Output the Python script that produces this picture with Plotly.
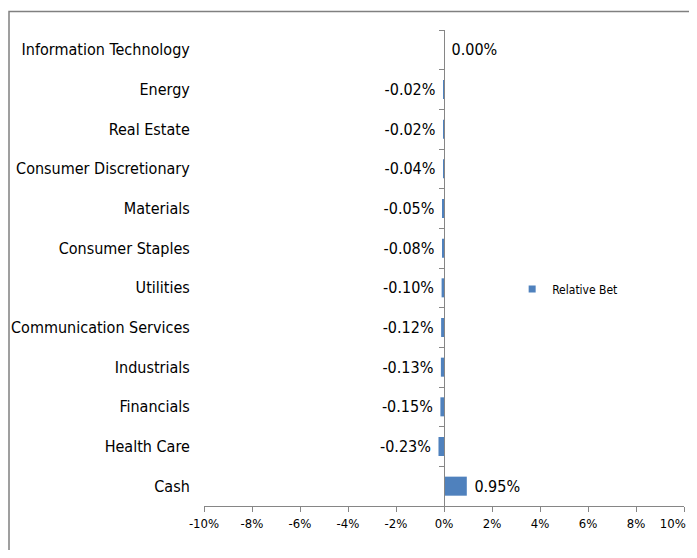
import plotly.graph_objects as go

categories = ["Information Technology", "Energy", "Real Estate", "Consumer Discretionary",
              "Materials", "Consumer Staples", "Utilities", "Communication Services",
              "Industrials", "Financials", "Health Care", "Cash"]
relative_bet = [0.00, -0.02, -0.02, -0.04, -0.05, -0.08, -0.10, -0.12, -0.13, -0.15, -0.23, 0.95]
x_ticks = [-10, -8, -6, -4, -2, 0, 2, 4, 6, 8, 10]
x_tick_labels = [f"{v}%" for v in x_ticks]

FONT = "DejaVu Sans Condensed, DejaVu Sans, sans-serif"
AXIS = "#868686"
NB = "\u00a0"

bar_text = [(f"{v:.2f}%" + NB) if v < 0 else (NB + f"{v:.2f}%") for v in relative_bet]
# keep the last tick label inside the visible page edge
tick_text = x_tick_labels[:-1] + [x_tick_labels[-1] + NB * 6]

fig = go.Figure()
fig.add_trace(go.Bar(
    y=categories, x=relative_bet, orientation="h", name="Relative Bet",
    marker=dict(color="#4F81BD", line=dict(width=0)),
    text=bar_text, texttemplate="%{text}", textposition="outside",
    textfont=dict(family=FONT, size=16, color="#000000"),
    cliponaxis=False, showlegend=False,
))
fig.add_trace(go.Scatter(
    x=[None], y=[None], mode="markers", name="Relative Bet",
    marker=dict(symbol="square", size=7, color="#4F81BD"),
    showlegend=True,
))

fig.update_layout(
    width=689, height=542,
    margin=dict(l=196, r=13, t=22, b=44),
    paper_bgcolor="white", plot_bgcolor="white",
    font=dict(family=FONT, color="#000000"),
    bargap=0.52,
    showlegend=True,
    legend=dict(x=0.642, y=0.456, xanchor="left", yanchor="middle",
                font=dict(family=FONT, size=12, color="#000000"),
                bgcolor="rgba(0,0,0,0)", itemwidth=30),
    xaxis=dict(range=[-10, 10], tickvals=x_ticks, ticktext=tick_text,
               showgrid=False, zeroline=False, showline=True, linecolor=AXIS, linewidth=1,
               ticks="outside", ticklen=5, tickcolor=AXIS, automargin=False,
               ticklabeloverflow="allow",
               tickfont=dict(family=FONT, size=13, color="#000000")),
    yaxis=dict(type="category", categoryorder="array", categoryarray=categories,
               autorange="reversed", anchor="free", position=0.5, side="left",
               showgrid=False, zeroline=False, showline=True, linecolor=AXIS, linewidth=1,
               ticks="outside", tickson="boundaries", ticklen=5, tickcolor=AXIS,
               ticklabelstandoff=251, automargin=False,
               tickfont=dict(family=FONT, size=16, color="#000000")),
    shapes=[dict(type="rect", xref="paper", yref="paper",
                 x0=-0.40625, x1=1.2, y0=-0.3, y1=1.0389,
                 line=dict(color="#808080", width=1.5), fillcolor="rgba(0,0,0,0)",
                 layer="below")],
)

fig.write_html("out.html")
